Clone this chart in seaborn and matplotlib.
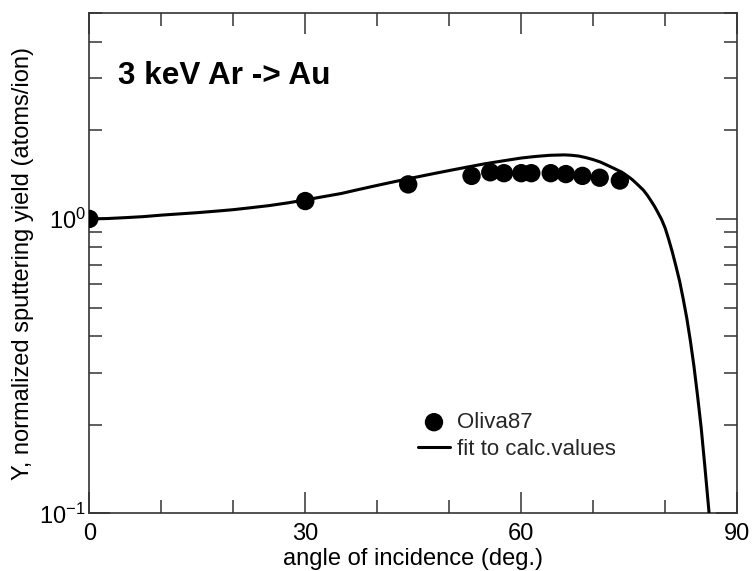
import matplotlib
matplotlib.use("Agg")
import matplotlib.pyplot as plt
import seaborn as sns
import numpy as np
import pandas as pd
from matplotlib.ticker import FixedLocator, LogLocator, NullFormatter

# ---- data ----
oliva_angle = [0, 30, 44.3, 53.1, 55.7, 57.6, 60.0, 61.4, 64.1, 66.2, 68.5, 70.9, 73.7]
oliva_yield = [1.00, 1.15, 1.31, 1.40, 1.44, 1.43, 1.43, 1.43, 1.43, 1.42, 1.40, 1.38, 1.35]

fit_angle = [0, 2.5, 5, 7.5, 10, 12.5, 15, 17.5, 20, 22.5, 25, 27.5, 30, 32.5, 35, 37.5,
             40, 42.5, 45, 47.5, 50, 52.5, 55, 57.5, 60, 62, 64, 66, 67, 68, 69, 70,
             71, 72, 73, 74, 75, 75.5, 76, 76.5, 77, 77.5, 78, 78.5, 79, 79.5, 80,
             80.5, 81, 81.5, 82, 82.5, 83, 83.5, 84, 84.5, 85, 85.5, 86.1, 86.5]
fit_yield = [1.000, 1.003, 1.010, 1.018, 1.030, 1.040, 1.050, 1.062, 1.075, 1.092, 1.110,
             1.133, 1.160, 1.190, 1.220, 1.260, 1.300, 1.340, 1.380, 1.420, 1.460, 1.500,
             1.540, 1.575, 1.610, 1.630, 1.645, 1.650, 1.645, 1.635, 1.615, 1.590, 1.560,
             1.520, 1.480, 1.440, 1.385, 1.355, 1.320, 1.285, 1.250, 1.205, 1.155, 1.105,
             1.050, 0.995, 0.930, 0.850, 0.770, 0.690, 0.615, 0.535, 0.460, 0.385, 0.315,
             0.250, 0.195, 0.145, 0.100, 0.075]

x_major = [0, 30, 60, 90]
x_minor = [10, 20, 40, 50, 70, 80]

title_text = "3 keV Ar -> Au"
xlabel = "angle of incidence (deg.)"
ylabel = "Y, normalized sputtering yield (atoms/ion)"

df_pts = pd.DataFrame({"angle": oliva_angle, "Y": oliva_yield})
df_fit = pd.DataFrame({"angle": fit_angle, "Y": fit_yield})

sns.set_theme(style="ticks")
plt.rcParams["font.family"] = ["Liberation Sans", "DejaVu Sans"]
plt.rcParams["mathtext.fontset"] = "custom"
plt.rcParams["mathtext.rm"] = "Liberation Sans"
plt.rcParams["mathtext.it"] = "Liberation Sans"
plt.rcParams["mathtext.default"] = "regular"
plt.rcParams["axes.unicode_minus"] = False

fig = plt.figure(figsize=(7.53, 5.71), dpi=100)
ax = fig.add_axes([0.1186, 0.101, 0.979 - 0.1186, 0.977 - 0.101])

sns.scatterplot(data=df_pts, x="angle", y="Y", ax=ax, color="black", s=175,
                edgecolor="none", label="Oliva87", zorder=3)
sns.lineplot(data=df_fit, x="angle", y="Y", ax=ax, color="black", linewidth=2.2,
             label="fit to calc.values", zorder=4, sort=False)
for ln in ax.lines:
    ln.set_solid_joinstyle("round")

ax.set_yscale("log")
ax.set_xlim(0, 90)
ax.set_ylim(0.1, 5)

ax.xaxis.set_major_locator(FixedLocator(x_major))
ax.xaxis.set_minor_locator(FixedLocator(x_minor))
ax.set_xticklabels([str(v) for v in x_major])
ax.yaxis.set_major_locator(LogLocator(base=10, numticks=10))
ax.yaxis.set_minor_locator(LogLocator(base=10, subs=np.arange(2, 10), numticks=20))
ax.yaxis.set_minor_formatter(NullFormatter())

ax.tick_params(which="both", direction="in", top=True, right=True, color="#333333",
               width=1.1, labelsize=17, labelcolor="black")
ax.tick_params(which="major", length=15)
ax.tick_params(which="minor", length=9.5)
ax.tick_params(axis="x", which="major", pad=7)
ax.tick_params(axis="y", which="major", pad=2.5)

for sp in ax.spines.values():
    sp.set_color("#333333")
    sp.set_linewidth(1.2)

ax.set_xlabel(xlabel, fontsize=17, color="black", labelpad=2)
ax.set_ylabel(ylabel, fontsize=17, color="black", labelpad=4)

ax.text(0.045, 0.875, title_text, transform=ax.transAxes, fontsize=22.7,
        fontweight="bold", color="black", ha="left", va="center")

leg = ax.legend(loc="center left", bbox_to_anchor=(0.508, 0.155), frameon=False,
                fontsize=16, handlelength=1.4, handletextpad=0.35,
                labelspacing=0.25, borderaxespad=0, borderpad=0)

fig.savefig("out.png", dpi=100)
